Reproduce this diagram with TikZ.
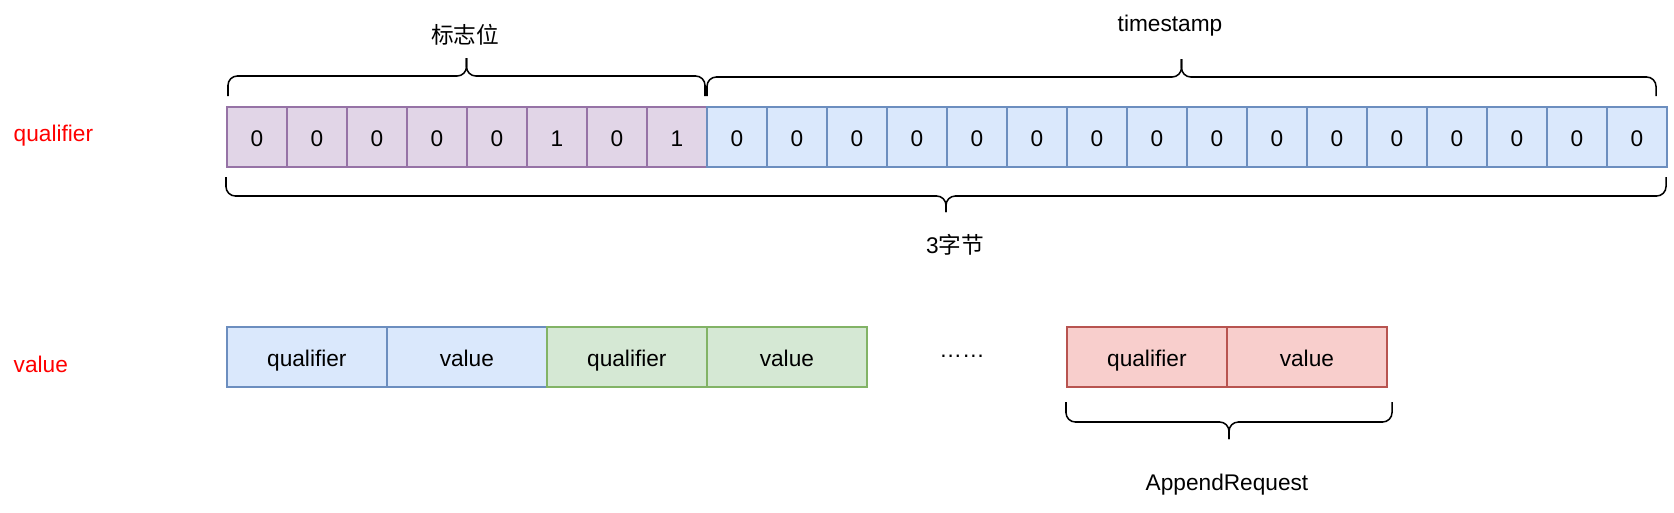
\documentclass[tikz,border=0pt]{standalone}
\usepackage{fontspec}
\setmainfont{Liberation Sans}
\newfontfamily\cjk{Noto Sans CJK SC}
\usetikzlibrary{calc}

\definecolor{violaf}{HTML}{E1D5E7}
\definecolor{violal}{HTML}{9673A6}
\definecolor{bluf}{HTML}{DAE8FC}
\definecolor{blul}{HTML}{6C8EBF}
\definecolor{verdef}{HTML}{D5E8D4}
\definecolor{verdel}{HTML}{82B366}
\definecolor{rossof}{HTML}{F8CECC}
\definecolor{rossol}{HTML}{B85450}

\tikzset{
  cella/.style={draw, line width=1.3pt, minimum width=45pt, minimum height=45pt,
    inner sep=0pt, anchor=north west, text height=15.5pt, text depth=0.5pt},
  flag/.style={cella, fill=violaf, draw=violal},
  tempo/.style={cella, fill=bluf, draw=blul},
  campo/.style={cella, minimum width=120pt},
  graffa/.style={line width=1.15pt, rounded corners=7pt},
  etich/.style={text=red, anchor=west}
}

% graffa da #1 a #2, alzata #3, punta #4
\newcommand{\graffa}[4]{%
  \draw[graffa] #1 |- ($#1!.5!#2+(0,#3)$) -- ++(0,#4);
  \draw[graffa] #2 |- ($#1!.5!#2+(0,#3)$) -- ++(0,#4);
}

\begin{document}
\begin{tikzpicture}[x=0.75pt,y=-0.75pt,font=\fontsize{17}{20}\selectfont]
\useasboundingbox (0,0) rectangle (1674,512);

\begin{scope}
\node[etich] (lq) at (9,136) {qualifier};

\foreach \v [count=\i] in {0,0,0,0,0,1,0,1}
  \node[flag] (f\i) at ({226+60*(\i-1)},106) {\v};
\foreach \i in {1,...,16}
  \node[tempo] (t\i) at ({706+60*(\i-1)},106) {0};

\coordinate (ga) at (228,96);
\coordinate (gb) at (705,96);
\graffa{(ga)}{(gb)}{-20}{-18}
\node (lflag) at (465,35) {\cjk 标志位};

\coordinate (ta) at (707,96);
\coordinate (tb) at (1656,96);
\graffa{(ta)}{(tb)}{-19}{-18}
\node (lts) at (1170,26) {timestamp};

\coordinate (ba) at (226,177);
\coordinate (bb) at (1666,177);
\graffa{(ba)}{(bb)}{19}{16}
\node (lbyte) at (955,245) {3\cjk 字节};
\end{scope}

\begin{scope}
\node[etich] (lv) at (9,364) {value};

\node[campo, fill=bluf, draw=blul] (b1) at (226,326) {qualifier};
\node[campo, fill=bluf, draw=blul] (b2) at (386,326) {value};
\node[campo, fill=verdef, draw=verdel] (b3) at (546,326) {qualifier};
\node[campo, fill=verdef, draw=verdel] (b4) at (706,326) {value};
\node (dots) at (962,356) {\textellipsis\textellipsis};
\node[campo, fill=rossof, draw=rossol] (r1) at (1066,326) {qualifier};
\node[campo, fill=rossof, draw=rossol] (r2) at (1226,326) {value};

\coordinate (ra) at (1066,402);
\coordinate (rb) at (1392,402);
\graffa{(ra)}{(rb)}{20}{17}
\node (lreq) at (1227,485) {AppendRequest};
\end{scope}

\end{tikzpicture}
\end{document}
